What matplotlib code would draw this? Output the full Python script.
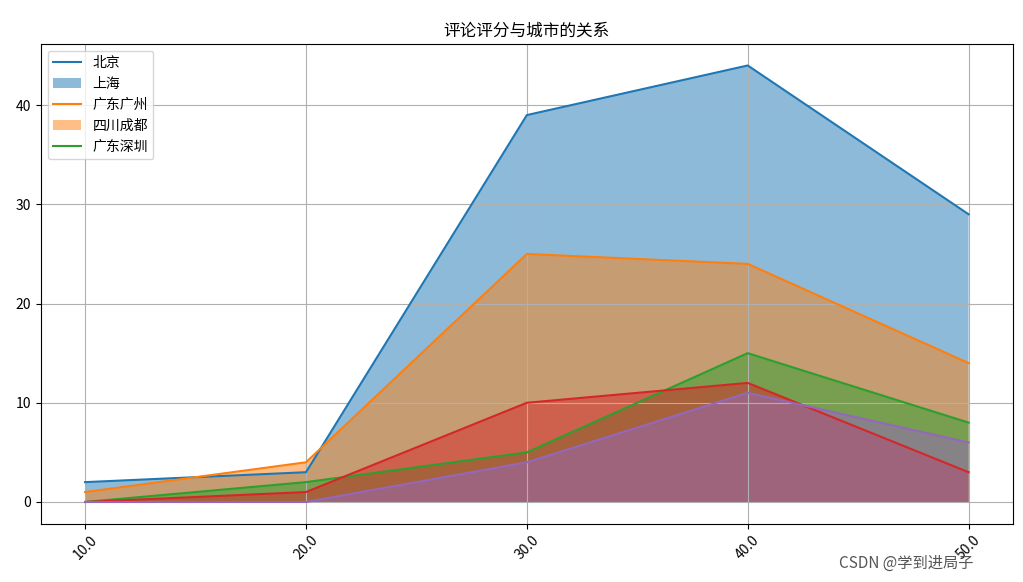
import numpy as np
import matplotlib
matplotlib.use("Agg")
import matplotlib.pyplot as plt

plt.rcParams['font.family'] = ['Noto Sans CJK SC', 'DejaVu Sans']
plt.rcParams['axes.unicode_minus'] = False

scores = [10.0, 20.0, 30.0, 40.0, 50.0]
cities = ['北京', '上海', '广东广州', '四川成都', '广东深圳']
s1 = [2, 3, 39, 44, 29]
s2 = [1, 4, 25, 24, 14]
s3 = [0, 2, 5, 15, 8]
s4 = [0, 1, 10, 12, 3]
s5 = [0, 0, 4, 11, 6]

fig = plt.figure(figsize=(10.23, 5.82), dpi=100)
for s in [s1, s2, s3, s4, s5]:
    plt.plot(scores, s)
    plt.fill_between(scores, s, alpha=0.5)

plt.title('评论评分与城市的关系')
plt.xticks(scores, [str(v) for v in scores], rotation=45)
plt.grid(True)
plt.legend(cities, loc='upper left')
plt.subplots_adjust(left=0.04, right=0.99, top=0.925, bottom=0.1)
fig.text(0.82, 0.025, 'CSDN @学到进局子', fontsize=11, color='#555555')
plt.savefig('out.png')
